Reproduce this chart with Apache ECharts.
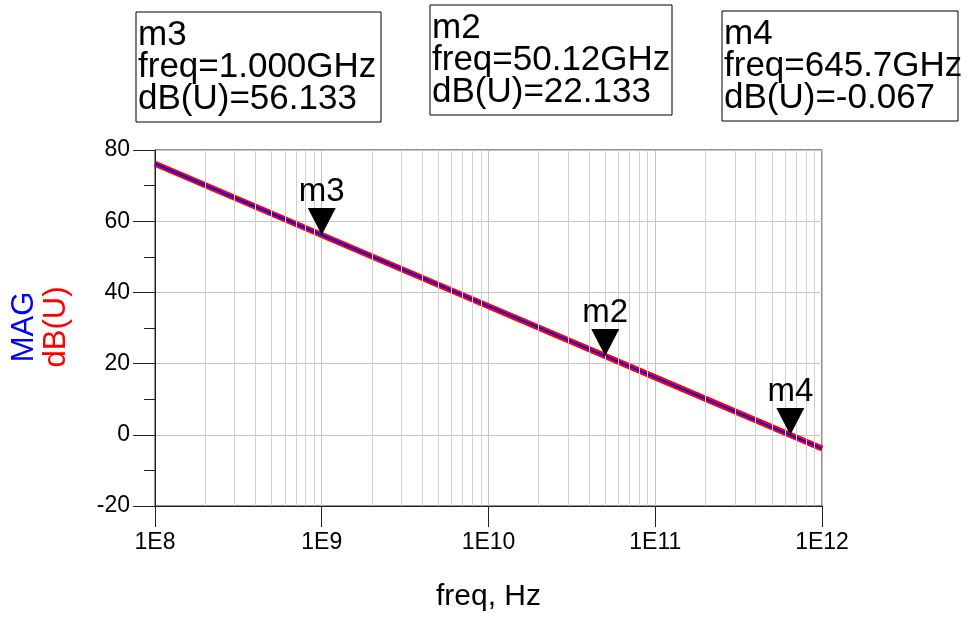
<!DOCTYPE html>
<html>
<head>
<meta charset="utf-8">
<script src="https://cdn.jsdelivr.net/npm/echarts@6/dist/echarts.min.js"></script>
<style>
  html, body { margin: 0; padding: 0; background: #fff; }
  #chart { width: 969px; height: 618px; }
</style>
</head>
<body>
<div id="chart"></div>
<script>
var FONT = '"Liberation Sans", Arial, sans-serif';

// trace, read at each decade
var freqs = [1e8, 1e9, 1e10, 1e11, 1e12];
var dbU = [76.133, 56.133, 36.133, 16.133, -3.867];
var mag = [76.133, 56.133, 36.133, 16.133, -3.867];

// markers
var markerNames = ['m3', 'm2', 'm4'];
var markerFreqs = [1e9, 50.12e9, 645.7e9];
var markerVals = [56.133, 22.133, -0.067];
var markerFreqText = ['1.000GHz', '50.12GHz', '645.7GHz'];
var markerValText = ['56.133', '22.133', '-0.067'];

// y ticks
var yMin = -20, yMax = 80, yStep = 20;

// minor log grid lines (2..9 in each decade)
var minorLines = [];
for (var d = 8; d < 12; d++) {
    for (var k = 2; k <= 9; k++) {
        minorLines.push({ xAxis: k * Math.pow(10, d) });
    }
}

var myChart = echarts.init(document.getElementById('chart'), null, { renderer: 'canvas' });

// marker readout boxes
var boxPos = [[136, 12, 245, 110], [430, 5, 242, 110], [722, 11, 236, 110]];
var graphics = [];
markerNames.forEach(function (n, i) {
    var b = boxPos[i];
    graphics.push({
        type: 'rect',
        shape: { x: b[0], y: b[1], width: b[2], height: b[3] },
        style: { fill: '#fff', stroke: '#000', lineWidth: 1 }
    });
    graphics.push({
        type: 'text',
        x: b[0] + 2,
        y: b[1] + 7,
        style: {
            text: n + '\nfreq=' + markerFreqText[i] + '\ndB(U)=' + markerValText[i],
            font: '35px ' + FONT,
            lineHeight: 32,
            fill: '#000'
        }
    });
});
graphics.push({
    type: 'text', x: 24, y: 327, rotation: Math.PI / 2,
    style: { text: 'MAG', font: '31px ' + FONT, fill: '#0000ff', align: 'center', verticalAlign: 'middle' }
});
graphics.push({
    type: 'text', x: 56, y: 327, rotation: Math.PI / 2,
    style: { text: 'dB(U)', font: '31px ' + FONT, fill: '#ff0000', align: 'center', verticalAlign: 'middle' }
});

option = {
    animation: false,
    backgroundColor: '#fff',
    grid: {
        left: 155, right: 147, top: 150, bottom: 112,
        show: true, borderColor: '#222', borderWidth: 1
    },
    graphic: graphics,
    xAxis: {
        type: 'log',
        logBase: 10,
        min: 1e8,
        max: 1e12,
        name: 'freq, Hz',
        nameLocation: 'middle',
        nameGap: 76,
        nameTextStyle: { fontSize: 30, fontFamily: FONT, color: '#000' },
        axisLine: { onZero: false, lineStyle: { color: '#222', width: 1 } },
        axisTick: { length: 21, lineStyle: { color: '#222' } },
        axisLabel: {
            fontSize: 23, fontFamily: FONT, color: '#000', margin: 25,
            formatter: function (v) { return '1E' + Math.round(Math.log10(v)); }
        },
        splitLine: { show: true, lineStyle: { color: '#c4c4c4', width: 1 } }
    },
    yAxis: {
        type: 'value',
        min: yMin,
        max: yMax,
        interval: yStep,
        axisLine: { show: true, onZero: false, lineStyle: { color: '#222', width: 1 } },
        axisTick: { show: true, length: 22, lineStyle: { color: '#222' } },
        minorTick: { show: true, splitNumber: 2, length: 11, lineStyle: { color: '#222' } },
        axisLabel: { fontSize: 23, fontFamily: FONT, color: '#000', margin: 25 },
        splitLine: { show: true, lineStyle: { color: '#c4c4c4', width: 1 } }
    },
    series: [
        {
            name: 'minor grid',
            type: 'line',
            data: [],
            silent: true,
            markLine: {
                silent: true,
                symbol: ['none', 'none'],
                label: { show: false },
                lineStyle: { color: '#d0d0d0', width: 1, type: 'solid' },
                data: minorLines
            }
        },
        {
            name: 'dB(U)',
            type: 'line',
            showSymbol: false,
            data: freqs.map(function (f, i) { return [f, dbU[i]]; }),
            lineStyle: { color: '#ff0000', width: 6 },
            z: 3
        },
        {
            name: 'MAG',
            type: 'line',
            showSymbol: false,
            data: freqs.map(function (f, i) { return [f, mag[i]]; }),
            lineStyle: { color: '#0000ff', width: 2 },
            z: 4
        },
        {
            name: 'markers',
            type: 'scatter',
            symbol: 'path://M0,0 L28,0 L14,28 Z',
            symbolSize: [28, 27],
            symbolOffset: [0, '-50%'],
            itemStyle: { color: '#000', opacity: 1 },
            z: 5,
            label: {
                show: true,
                position: 'top',
                distance: 0,
                fontSize: 33,
                fontFamily: FONT,
                color: '#000',
                formatter: function (p) { return p.name; }
            },
            data: markerNames.map(function (n, i) {
                return { name: n, value: [markerFreqs[i], markerVals[i]] };
            })
        }
    ]
};

myChart.setOption(option);
</script>
</body>
</html>
